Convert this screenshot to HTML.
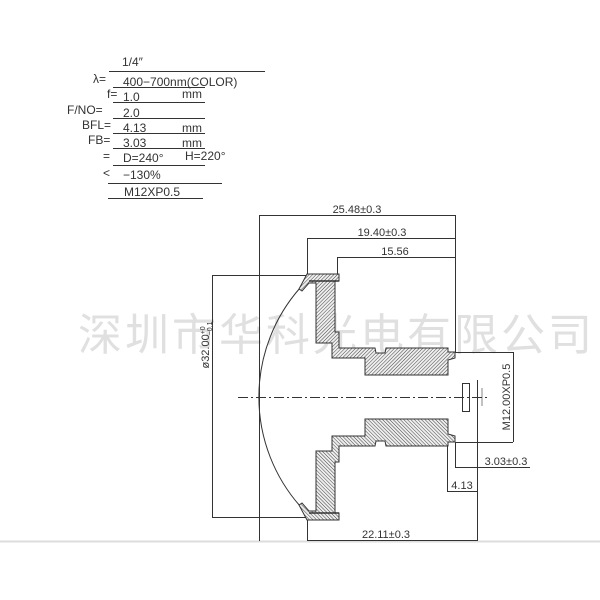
<!DOCTYPE html>
<html><head><meta charset="utf-8"><style>
html,body{margin:0;padding:0;background:#fff}
svg{display:block}
text{font-family:"Liberation Sans","Noto Sans CJK SC",sans-serif;fill:#333}
</style></head><body>
<svg width="600" height="600" viewBox="0 0 600 600" xmlns="http://www.w3.org/2000/svg">
<defs>
<pattern id="h" width="2.5" height="2.5" patternUnits="userSpaceOnUse" patternTransform="rotate(45)">
<rect width="2.5" height="2.5" fill="#eee"/><line x1="0" y1="0" x2="0" y2="2.5" stroke="#444" stroke-width="1"/>
</pattern>
</defs>
<line x1="0" y1="541.5" x2="600" y2="541.5" stroke="#ddd" stroke-width="2"/>
<!-- watermark -->
<text x="78" y="350" font-size="44" style="fill:#e0e0e0" letter-spacing="3">深圳市华科光电有限公司</text>

<!-- spec table -->
<g stroke="#333" stroke-width="1">
<line x1="109" y1="71.5" x2="265" y2="71.5"/>
<line x1="113" y1="87.5" x2="205" y2="87.5"/>
<line x1="113" y1="102.5" x2="205" y2="102.5"/>
<line x1="113" y1="118.5" x2="205" y2="118.5"/>
<line x1="113" y1="133.5" x2="205" y2="133.5"/>
<line x1="113" y1="148.5" x2="205" y2="148.5"/>
<line x1="113" y1="165.5" x2="205" y2="165.5"/>
<line x1="108" y1="183.5" x2="222" y2="183.5"/>
<line x1="108" y1="198.5" x2="203" y2="198.5"/>
</g>
<g font-size="12">
<text x="122" y="66">1/4″</text>
<text x="93" y="83">λ=</text><text x="123" y="86">400−700nm(COLOR)</text>
<text x="107" y="98">f=</text><text x="123" y="101">1.0</text><text x="182" y="98">mm</text>
<text x="67" y="114">F/NO=</text><text x="123" y="117">2.0</text>
<text x="82" y="129">BFL=</text><text x="123" y="132">4.13</text><text x="182" y="132">mm</text>
<text x="88" y="144">FB=</text><text x="123" y="147">3.03</text><text x="182" y="147">mm</text>
<text x="103" y="160">=</text><text x="123" y="162">D=240°</text><text x="185" y="160">H=220°</text>
<text x="103" y="177">&lt;</text><text x="123" y="179">−130%</text>
<text x="124" y="196">M12XP0.5</text>
</g>

<!-- dimensions -->
<g stroke="#333" stroke-width="1" fill="none">
<line x1="259.5" y1="215" x2="259.5" y2="541"/>
<line x1="259" y1="215.5" x2="455" y2="215.5"/>
<line x1="455.5" y1="215" x2="455.5" y2="352"/>
<line x1="307" y1="238.5" x2="455" y2="238.5"/>
<line x1="307.5" y1="238" x2="307.5" y2="274"/>
<line x1="337" y1="257.5" x2="455" y2="257.5"/>
<line x1="337.5" y1="257" x2="337.5" y2="274"/>
<line x1="212.5" y1="275" x2="212.5" y2="517"/>
<line x1="212" y1="275.5" x2="307" y2="275.5"/>
<line x1="212" y1="517.5" x2="307" y2="517.5"/>
<line x1="307.5" y1="517" x2="307.5" y2="540"/>
<line x1="307" y1="540.5" x2="477" y2="540.5"/>
<line x1="477.5" y1="380" x2="477.5" y2="541"/>
<line x1="455" y1="352.5" x2="513" y2="352.5"/>
<line x1="455" y1="442.5" x2="513" y2="442.5"/>
<line x1="513.5" y1="352" x2="513.5" y2="442"/>
<line x1="455.5" y1="442" x2="455.5" y2="467"/>
<line x1="455" y1="467.5" x2="530" y2="467.5"/>
<line x1="447.5" y1="442" x2="447.5" y2="492"/>
<line x1="447" y1="491.5" x2="477" y2="491.5"/>
<line x1="238" y1="397.5" x2="490" y2="397.5" stroke-dasharray="10,3,2,3"/>
<rect x="462.5" y="383.5" width="7" height="28"/>
<line x1="482" y1="388" x2="482" y2="406" stroke-width="0.6"/>
</g>
<g font-size="11">
<text x="357" y="213" text-anchor="middle">25.48±0.3</text>
<text x="382" y="236" text-anchor="middle">19.40±0.3</text>
<text x="395" y="255" text-anchor="middle">15.56</text>
<text x="386" y="538" text-anchor="middle">22.11±0.3</text>
<text x="462" y="489" text-anchor="middle">4.13</text>
<text x="506" y="465" text-anchor="middle">3.03±0.3</text>
<text transform="translate(209,345) rotate(-90)" text-anchor="middle">ø32.00<tspan font-size="7" dy="-4">+0</tspan><tspan font-size="7" dx="-9" dy="7">−0.1</tspan></text>
<text transform="translate(510,397) rotate(-90)" text-anchor="middle">M12.00XP0.5</text>
</g>

<!-- lens -->
<path d="M300,288 A165,165 0 0 0 300,506" fill="none" stroke="#333" stroke-width="1"/>
<!-- housing -->
<g id="top" fill="url(#h)" stroke="#333" stroke-width="1">
<path d="M307,274 L339,274 L339,281 L335,281 L335,332 L339,332 L339,348 L375,348 L376,353 L385,353 L386,348 L448,348 L448,352 L455,352 L455,358 L448,360 L448,375 L365,375 L365,358 L332,358 L332,343 L316,343 L316,283 L309,283 L302,291 L299,289 Z"/>
<line x1="309" y1="281" x2="339" y2="281" stroke-width="1.5"/>
</g>
<use href="#top" transform="translate(0,794) scale(1,-1)"/>
</svg>
</body></html>
